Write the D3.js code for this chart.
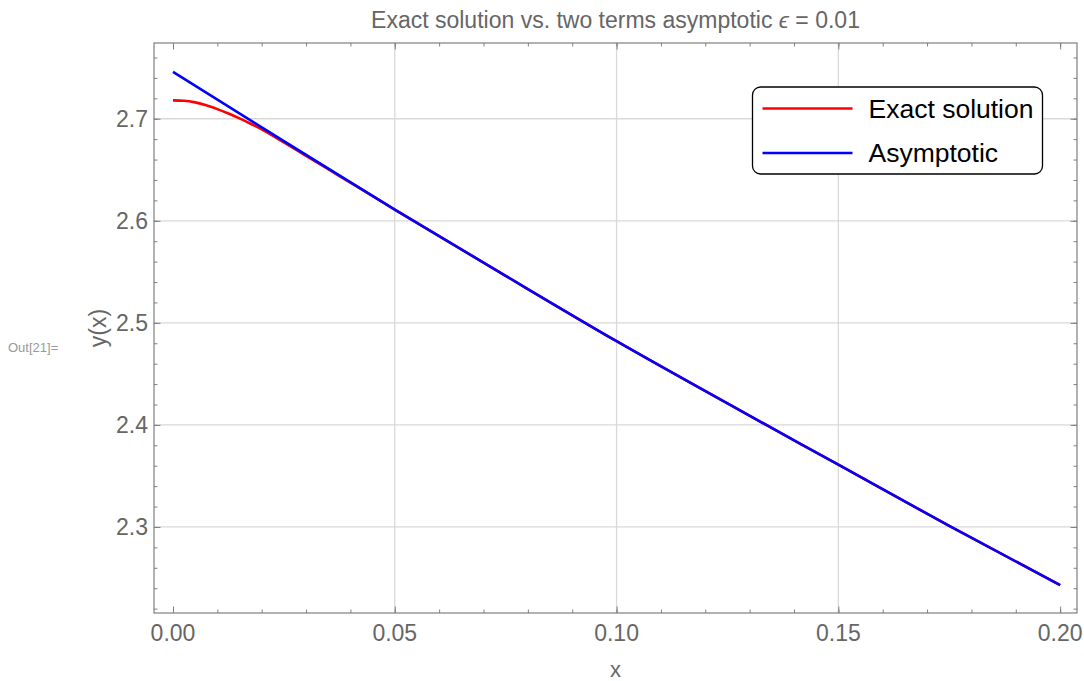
<!DOCTYPE html>
<html>
<head>
<meta charset="utf-8" />
<title>Exact solution vs. asymptotic</title>
<script src="https://cdn.jsdelivr.net/npm/d3@7"></script>
<style>
    body { margin: 0; background: #fff; }
    text { font-family: "Liberation Sans", Arial, sans-serif; }
</style>
</head>
<body>
<div id="chart"></div>
<script>
    // values
    var exactX = [0, 0.0025, 0.005, 0.0075, 0.01, 0.0125, 0.015, 0.0175, 0.02, 0.025, 0.03, 0.035, 0.04, 0.05, 0.075, 0.1, 0.125, 0.15, 0.175, 0.2];
    var exactY = [2.718, 2.7176, 2.716, 2.7132, 2.7094, 2.7051, 2.7003, 2.6951, 2.6896, 2.6768, 2.6636, 2.6505, 2.6374, 2.6110, 2.5460, 2.4820, 2.4210, 2.3610, 2.3010, 2.2430];
    var asymX = [0, 0.025, 0.05, 0.075, 0.1, 0.125, 0.15, 0.175, 0.2];
    var asymY = [2.746, 2.6780, 2.6110, 2.5460, 2.4820, 2.4210, 2.3610, 2.3010, 2.2430];
    var xTicks = [0, 0.05, 0.10, 0.15, 0.20];
    var yTicks = [2.3, 2.4, 2.5, 2.6, 2.7];
    var seriesNames = ["Exact solution", "Asymptotic"];
    var seriesColors = ["#ff0000", "#0000ff"];

    var width = 1084, height = 681;
    var margin = { top: 43, right: 7, bottom: 68, left: 154 };

    var svg = d3.select("#chart").append("svg")
        .attr("width", width)
        .attr("height", height);

    var x = d3.scaleLinear().domain([-0.00428, 0.2038]).range([margin.left, width - margin.right]);
    var y = d3.scaleLinear().domain([2.2157, 2.7742]).range([height - margin.bottom, margin.top]);

    var plotLeft = x.range()[0], plotRight = x.range()[1];
    var plotTop = y.range()[1], plotBottom = y.range()[0];

    // grid lines
    svg.append("g").selectAll("line")
        .data(xTicks.filter(function (d) { return d > 0 && d < 0.2; }))
        .enter().append("line")
        .attr("x1", function (d) { return x(d); }).attr("x2", function (d) { return x(d); })
        .attr("y1", plotTop).attr("y2", plotBottom)
        .attr("stroke", "#d9d9d9").attr("stroke-width", 1.3);
    svg.append("g").selectAll("line")
        .data(yTicks)
        .enter().append("line")
        .attr("y1", function (d) { return y(d); }).attr("y2", function (d) { return y(d); })
        .attr("x1", plotLeft).attr("x2", plotRight)
        .attr("stroke", "#d9d9d9").attr("stroke-width", 1.3);

    // frame axes
    var xMinor = d3.range(0, 21).map(function (i) { return i / 100; });
    var yMinor = d3.range(111, 139).map(function (i) { return i / 50; });
    var axisColor = "#7f7f7f";

    function frameAxis(axisFn, scale, ticks, len, transform) {
        var g = svg.append("g").attr("transform", transform)
            .call(axisFn(scale).tickValues(ticks).tickSize(len).tickFormat(""));
        g.select(".domain").remove();
        g.selectAll("line").attr("stroke", axisColor);
        return g;
    }
    // ticks point inward on all four sides
    frameAxis(d3.axisTop, x, xMinor, 3.5, "translate(0," + plotBottom + ")");
    frameAxis(d3.axisBottom, x, xMinor, 3.5, "translate(0," + plotTop + ")");
    frameAxis(d3.axisRight, y, yMinor, 3.5, "translate(" + plotLeft + ",0)");
    frameAxis(d3.axisLeft, y, yMinor, 3.5, "translate(" + plotRight + ",0)");
    frameAxis(d3.axisTop, x, xTicks, 6.5, "translate(0," + plotBottom + ")");
    frameAxis(d3.axisBottom, x, xTicks, 6.5, "translate(0," + plotTop + ")");
    frameAxis(d3.axisRight, y, yTicks, 6.5, "translate(" + plotLeft + ",0)");
    frameAxis(d3.axisLeft, y, yTicks, 6.5, "translate(" + plotRight + ",0)");

    svg.append("rect")
        .attr("x", plotLeft).attr("y", plotTop)
        .attr("width", plotRight - plotLeft).attr("height", plotBottom - plotTop)
        .attr("fill", "none").attr("stroke", axisColor).attr("stroke-width", 1.2);

    // tick labels
    svg.append("g").selectAll("text")
        .data(xTicks).enter().append("text")
        .attr("x", function (d) { return x(d); })
        .attr("y", plotBottom + 28)
        .attr("text-anchor", "middle")
        .attr("font-size", "23px")
        .attr("fill", "#666")
        .text(function (d) { return d3.format(".2f")(d); });
    svg.append("g").selectAll("text")
        .data(yTicks).enter().append("text")
        .attr("x", plotLeft - 6)
        .attr("y", function (d) { return y(d) + 8; })
        .attr("text-anchor", "end")
        .attr("font-size", "23px")
        .attr("fill", "#666")
        .text(function (d) { return d3.format(".1f")(d); });

    // axis labels and title
    svg.append("text")
        .attr("x", (plotLeft + plotRight) / 2).attr("y", 677)
        .attr("text-anchor", "middle").attr("font-size", "22px").attr("fill", "#666")
        .text("x");
    svg.append("text")
        .attr("transform", "translate(106," + ((plotTop + plotBottom) / 2) + ") rotate(-90)")
        .attr("text-anchor", "middle").attr("font-size", "23px").attr("fill", "#666")
        .text("y(x)");
    svg.append("text")
        .attr("x", 8).attr("y", 352)
        .attr("font-size", "13px").attr("fill", "#999")
        .text("Out[21]=");
    var title = svg.append("text")
        .attr("x", (plotLeft + plotRight) / 2).attr("y", 28)
        .attr("text-anchor", "middle").attr("font-size", "23px").attr("fill", "#666")
        .text("Exact solution vs. two terms asymptotic ");
    title.append("tspan").attr("font-style", "italic").text("\u03F5");
    title.append("tspan").text(" = 0.01");

    // curves
    var line = d3.line()
        .x(function (d) { return x(d[0]); })
        .y(function (d) { return y(d[1]); })
        .curve(d3.curveMonotoneX);
    var series = [d3.zip(exactX, exactY), d3.zip(asymX, asymY)];
    svg.append("g").selectAll("path")
        .data(series).enter().append("path")
        .attr("d", line)
        .attr("fill", "none")
        .attr("stroke", function (d, i) { return seriesColors[i]; })
        .attr("stroke-width", 2.6);

    // legend
    var legend = svg.append("g").attr("transform", "translate(752.5,87)");
    legend.append("rect")
        .attr("width", 290).attr("height", 87)
        .attr("rx", 8).attr("ry", 8)
        .attr("fill", "#fff").attr("stroke", "#000").attr("stroke-width", 1.3);
    var item = legend.selectAll(".item")
        .data(seriesNames).enter().append("g")
        .attr("class", "item")
        .attr("transform", function (d, i) { return "translate(0," + (21.5 + i * 44.5) + ")"; });
    item.append("line")
        .attr("x1", 10).attr("x2", 100)
        .attr("stroke", function (d, i) { return seriesColors[i]; })
        .attr("stroke-width", 2.6);
    item.append("text")
        .attr("x", 116).attr("y", 9)
        .attr("font-size", "26.5px").attr("fill", "#000")
        .text(function (d) { return d; });
</script>
</body>
</html>
